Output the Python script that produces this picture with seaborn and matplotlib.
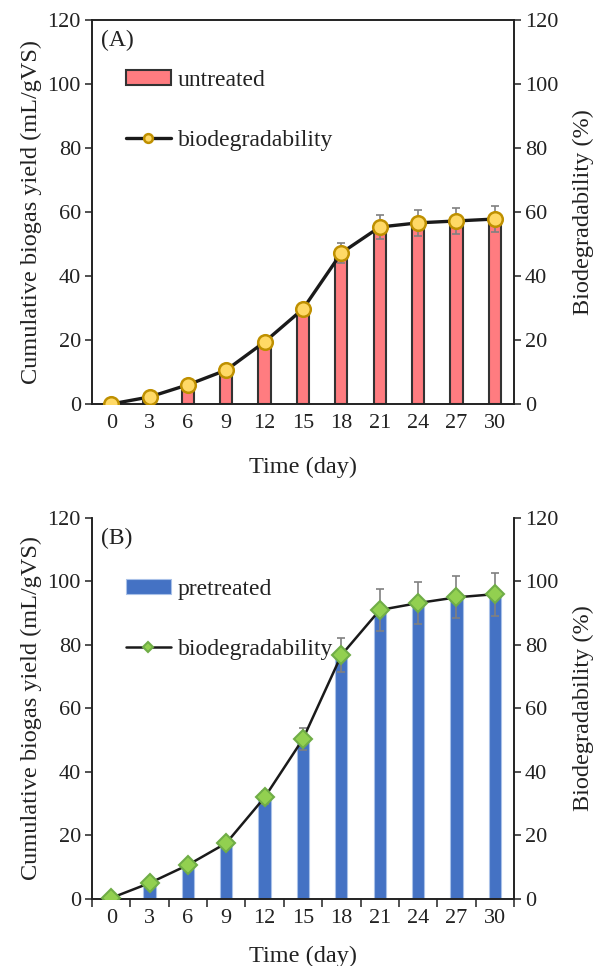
import matplotlib
matplotlib.use("Agg")
import matplotlib.pyplot as plt
import seaborn as sns
import numpy as np
import pandas as pd

# ---------------- data ----------------
days = [0, 3, 6, 9, 12, 15, 18, 21, 24, 27, 30]

yield_untreated = [0, 1.8, 5.8, 10.2, 18.6, 29.0, 46.0, 54.6, 55.8, 56.6, 57.2]
bio_untreated = [0, 2.2, 6.0, 10.6, 19.4, 29.7, 47.2, 55.3, 56.6, 57.2, 57.8]
err_untreated = [0, 0.3, 0.5, 0.8, 1.0, 1.5, 3.1, 3.8, 4.0, 4.0, 4.0]

yield_pretreated = [0, 4.8, 10.5, 17.5, 31.5, 50.0, 76.0, 90.0, 92.5, 94.5, 95.5]
bio_pretreated = [0.3, 5.0, 10.7, 17.6, 32.0, 50.4, 76.8, 91.0, 93.2, 95.0, 96.0]
err_pretreated = [0, 0.3, 0.6, 1.0, 2.0, 3.5, 5.4, 6.5, 6.6, 6.6, 6.8]

y_ticks = [0, 20, 40, 60, 80, 100, 120]
day_labels = [str(d) for d in days]

# ---------------- style ----------------
sns.set_theme(style="white")
plt.rcParams['font.family'] = ['Liberation Serif', 'DejaVu Serif']
TXT = '#222222'
TICK_FS = 16
LAB_FS = 17.5
LEG_FS = 17

fig = plt.figure(figsize=(5.94, 9.66), dpi=100)
ax_a = fig.add_axes([0.1549, 0.5818, 0.7104, 0.3975])
ax_b = fig.add_axes([0.1549, 0.0694, 0.7104, 0.3944])


def panel(ax, yields, bio, err, bar_color, bar_edge, bar_lw, bar_label,
          marker, mface, medge, msize, mew, lw, letter, boundary_ticks,
          top_spine, leg_anchor, leg_markerscale, xlabelpad):
    df = pd.DataFrame({'day': days, 'yield': yields})
    sns.barplot(data=df, x='day', y='yield', native_scale=True, width=0.32,
                color=bar_color, edgecolor=bar_edge, linewidth=bar_lw,
                saturation=1, ax=ax, label=bar_label, zorder=2)
    if ax.get_legend() is not None:
        ax.get_legend().remove()
    ax.set_xlim(days[0] - 1.5, days[-1] + 1.5)
    ax.set_ylim(0, 120)
    ax.set_yticks(y_ticks)
    ax.set_xticks(days)
    ax.set_xticklabels(day_labels)

    ax2 = ax.twinx()
    ax2.errorbar(days, bio, yerr=err, fmt='none', ecolor='#808080',
                 elinewidth=1.2, capsize=3.2, capthick=1.2, zorder=2)
    sns.lineplot(x=days, y=bio, ax=ax2, color='#1a1a1a', lw=lw,
                 marker=marker, markersize=msize, markerfacecolor=mface,
                 markeredgecolor=medge, markeredgewidth=mew,
                 label='biodegradability', legend=False, zorder=3)
    if ax2.get_legend() is not None:
        ax2.get_legend().remove()
    ax2.set_ylim(0, 120)
    ax2.set_yticks(y_ticks)
    ax2.set_xlim(days[0] - 1.5, days[-1] + 1.5)

    for a in (ax, ax2):
        for s in a.spines.values():
            s.set_color(TXT)
            s.set_linewidth(1.2)
        a.spines['top'].set_visible(top_spine)
        a.grid(False)

    ax.tick_params(axis='y', left=True, direction='out', length=5, width=1.1,
                   color=TXT, labelsize=TICK_FS, labelcolor=TXT, pad=3)
    ax2.tick_params(axis='y', right=True, direction='out', length=5, width=1.1,
                    color=TXT, labelsize=TICK_FS, labelcolor=TXT, pad=3)
    ax.tick_params(axis='x', which='major', bottom=False, length=0,
                   labelsize=TICK_FS, labelcolor=TXT, pad=7)
    if boundary_ticks:
        bounds = [d - 1.5 for d in days] + [days[-1] + 1.5]
        ax.set_xticks(bounds, minor=True)
        ax.tick_params(axis='x', which='minor', bottom=True, direction='out',
                       length=6, width=1.1, color=TXT)

    ax.set_xlabel('Time (day)', fontsize=LAB_FS, color=TXT, labelpad=xlabelpad)
    ax.set_ylabel('Cumulative biogas yield (mL/gVS)', fontsize=LAB_FS,
                  color=TXT, labelpad=4)
    ax2.set_ylabel('Biodegradability (%)', fontsize=LAB_FS, color=TXT,
                   labelpad=10)

    h1, l1 = ax.get_legend_handles_labels()
    h2, l2 = ax2.get_legend_handles_labels()
    leg = ax2.legend(h1 + h2, l1 + l2, loc='upper left',
                     bbox_to_anchor=leg_anchor, frameon=False, fontsize=LEG_FS,
                     labelspacing=1.65, handlelength=1.9, handleheight=0.6,
                     handletextpad=0.3, markerscale=leg_markerscale)
    for t in leg.get_texts():
        t.set_color(TXT)
    ax.text(0.022, 0.975, letter, transform=ax.transAxes, ha='left', va='top',
            fontsize=LEG_FS, color=TXT)


panel(ax_a, yield_untreated, bio_untreated, err_untreated,
      '#FF7C80', '#333333', 1.5, 'untreated',
      'o', '#FFD966', '#BF9000', 10.5, 1.8, 2.4, '(A)', False, True,
      (0.03, 0.925), 0.6, 17)
panel(ax_b, yield_pretreated, bio_pretreated, err_pretreated,
      '#4472C4', '#A9C1E8', 0.8, 'pretreated',
      'D', '#92D050', '#70AD47', 9, 1.5, 1.8, '(B)', True, False,
      (0.03, 0.895), 0.6, 13)

fig.savefig('out.png', dpi=100)
